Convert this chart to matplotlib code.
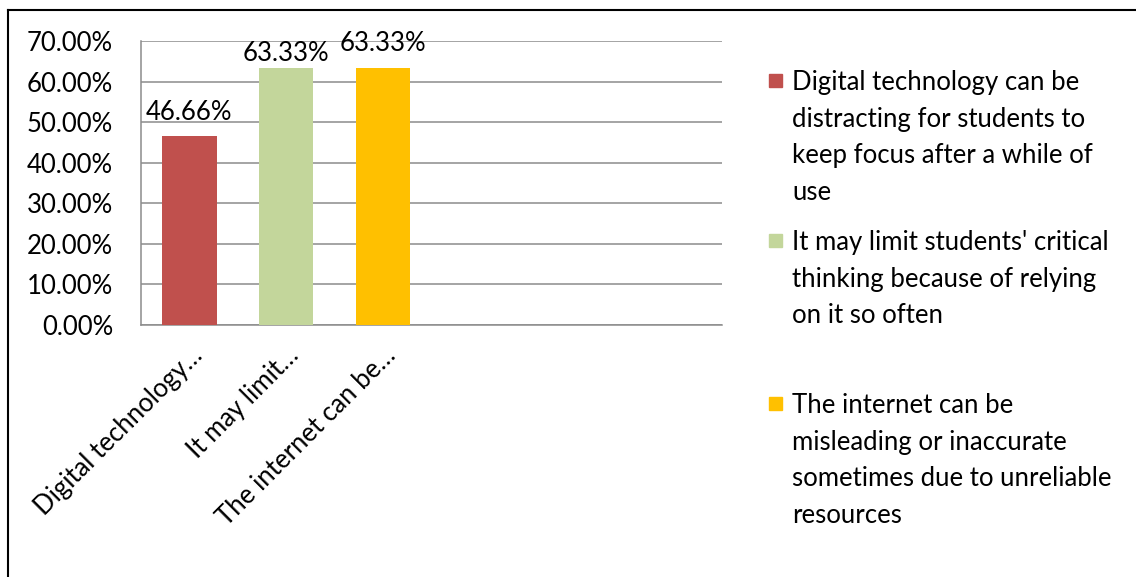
import matplotlib
matplotlib.use("Agg")
import matplotlib.pyplot as plt
from matplotlib.lines import Line2D
from matplotlib.patches import Rectangle
from matplotlib.ticker import FuncFormatter, MultipleLocator

plt.rcParams['font.family'] = ['Lato', 'DejaVu Sans']

# Datos
short_labels = ['Digital technology…', 'It may limit…', 'The internet can be…']
legend_labels = [
    'Digital technology can be\ndistracting for students to\nkeep focus after a while of\nuse',
    "It may limit students' critical\nthinking because of relying\non it so often",
    'The internet can be\nmisleading or inaccurate\nsometimes due to unreliable\nresources',
]
values = [0.4666, 0.6333, 0.6333]
colors = ['#C0504D', '#C3D69B', '#FFC000']

# Ajustes de estilo
W, H = 1136, 577
FS = 18.5
grid_color = '#8C8C8C'
label_offsets = [16, 7, 17]           # separación etiqueta-barra (px)
legend_base = [90, 250, 413]          # línea base de cada entrada (px desde arriba)
line_pitch = 36.7

fig = plt.figure(figsize=(W / 100, H / 100), dpi=100)
ax = fig.add_axes([141 / W, 1 - 325 / H, (722 - 141) / W, (325 - 41) / H])

x = list(range(len(values)))
bars = ax.bar(x, values, width=0.56, color=colors, zorder=3)

for b, v, off in zip(bars, values, label_offsets):
    ax.annotate(f'{v * 100:.2f}%', (b.get_x() + b.get_width() / 2, v),
                xytext=(0, off), textcoords='offset pixels',
                ha='center', va='baseline', fontsize=FS)

ax.set_xlim(-0.5, 5.5)
ax.set_ylim(0, 0.7)
ax.yaxis.set_major_locator(MultipleLocator(0.1))
ax.yaxis.set_major_formatter(FuncFormatter(lambda v, p: f'{v * 100:.2f}%'))
ax.tick_params(axis='y', length=0, pad=20, labelsize=FS)
ax.set_xticks(x)
ax.set_xticklabels(short_labels, rotation=45, ha='right', va='top',
                   rotation_mode='anchor', fontsize=FS)
ax.tick_params(axis='x', length=0, pad=13)

ax.grid(axis='y', color=grid_color, linewidth=1.1, zorder=0)
ax.set_axisbelow(True)
for s in ['top', 'right']:
    ax.spines[s].set_visible(False)
for s in ['left', 'bottom']:
    ax.spines[s].set_color(grid_color)
    ax.spines[s].set_linewidth(1.1)

# Leyenda dibujada a mano
for lab, col, yb in zip(legend_labels, colors, legend_base):
    fig.add_artist(Rectangle((769 / W, 1 - (yb - 3) / H), 13 / W, 13 / H,
                             transform=fig.transFigure, color=col))
    for i, line in enumerate(lab.split('\n')):
        fig.text(792 / W, 1 - (yb + i * line_pitch) / H, line,
                 fontsize=FS, va='baseline', ha='left')

# Marco exterior
fig.add_artist(Line2D([8 / W, 8 / W], [0, 1 - 10 / H], color='black', lw=1.5))
fig.add_artist(Line2D([8 / W, 1], [1 - 10 / H, 1 - 10 / H], color='black', lw=1.5))

fig.savefig('out.png', dpi=100)
